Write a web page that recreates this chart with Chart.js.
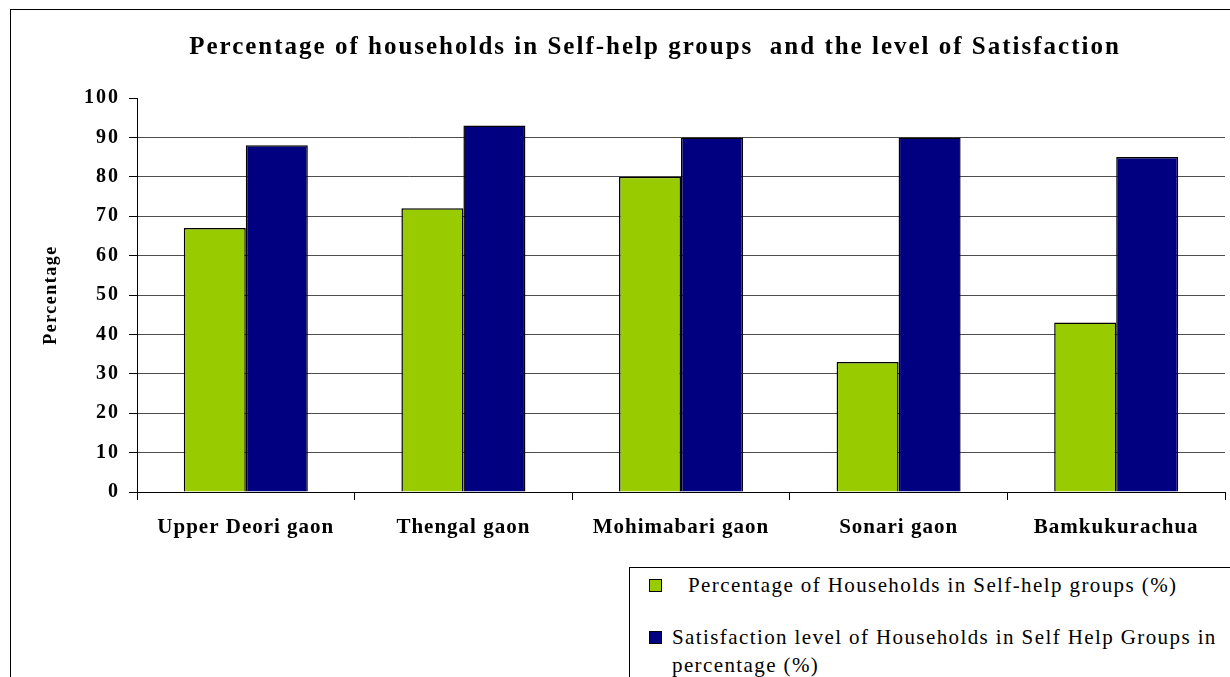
<!DOCTYPE html>
<html>
<head>
<meta charset="utf-8">
<script src="https://cdn.jsdelivr.net/npm/chart.js@4.4.1/dist/chart.umd.min.js"></script>
<style>
  html, body { margin: 0; padding: 0; background: #fff; overflow: hidden; width: 1230px; height: 677px; }
  #frame { position: absolute; left: 10px; top: 9px; width: 1290px; height: 668px; border-left: 1px solid #000; border-top: 1px solid #000; box-sizing: border-box; }
  #legend { position: absolute; left: 629px; top: 567px; width: 700px; height: 200px; border: 1px solid #000; background: #fff;
    font-family: "Liberation Serif", "Times New Roman", serif; font-size: 21px; letter-spacing: 1.4px; color: #000; }
  .item { position: absolute; white-space: nowrap; line-height: 28px; }
  .sw { position: absolute; width: 11px; height: 11px; border: 1px solid #000; }
</style>
</head>
<body>
<div id="frame"></div>
<canvas id="c" width="1290" height="668" style="position:absolute;left:10px;top:9px;width:1290px;height:668px"></canvas>
<div id="legend"></div>
<script>
const categories = ["Upper Deori gaon", "Thengal gaon", "Mohimabari gaon", "Sonari gaon", "Bamkukurachua"];
const seriesNames = ["Percentage of Households in Self-help groups (%)", "Satisfaction level of Households in Self Help Groups in percentage (%)"];
const shgPercent = [67, 72, 80, 33, 43];
const satisfactionPercent = [88, 93, 90, 90, 85];
const yTicks = [0, 10, 20, 30, 40, 50, 60, 70, 80, 90, 100];
const colors = ["#99CC00", "#000080"];

const serif = "'Liberation Serif', 'Times New Roman', serif";

// draws a chart element with a given canvas letter spacing
function spaced(obj, method, spacing) {
  if (!obj || obj['__sp_' + method]) return;
  const orig = obj[method];
  obj[method] = function (...args) {
    const ctx = this.ctx;
    const prev = ctx.letterSpacing;
    ctx.letterSpacing = spacing;
    const r = orig.apply(this, args);
    ctx.letterSpacing = prev;
    return r;
  };
  obj['__sp_' + method] = true;
}
const spacingPlugin = {
  id: 'spacing',
  afterLayout(chart) {
    spaced(chart.scales.x, 'drawLabels', '1px');
    spaced(chart.scales.y, 'drawLabels', '2px');
    spaced(chart.scales.y, 'drawTitle', '1.5px');
    spaced(chart.titleBlock, 'draw', '2px');
  }
};

new Chart(document.getElementById('c'), {
  type: 'bar',
  data: {
    labels: categories,
    datasets: [
      { label: seriesNames[0], data: shgPercent, backgroundColor: colors[0], borderColor: '#000', borderWidth: 1.5,
        categoryPercentage: 0.57, barPercentage: 1.0 },
      { label: seriesNames[1], data: satisfactionPercent, backgroundColor: colors[1], borderColor: '#000', borderWidth: 1.5,
        categoryPercentage: 0.57, barPercentage: 1.0 }
    ]
  },
  plugins: [spacingPlugin],
  options: {
    responsive: false,
    animation: false,
    layout: { padding: { left: 0, right: 0, top: 0, bottom: 125 } },
    plugins: {
      legend: { display: false },
      tooltip: { enabled: false },
      title: {
        display: true,
        text: 'Percentage of households in Self-help groups  and the level of Satisfaction',
        color: '#000',
        font: { family: serif, size: 25, weight: 'bold', lineHeight: 1.2 },
        padding: { top: 24, bottom: 35 }
      }
    },
    scales: {
      x: {
        afterFit: (s) => { s.height = 60; },
        grid: { offset: true, drawOnChartArea: false, drawTicks: true, tickLength: 8, color: '#000', tickColor: '#000' },
        border: { color: '#000', width: 1 },
        ticks: { color: '#000', padding: 15, font: { family: serif, size: 21, weight: 'bold' }, maxRotation: 0 }
      },
      y: {
        min: 0, max: 100,
        afterFit: (s) => { s.width = 127; },
        afterBuildTicks: (s) => { s.ticks = yTicks.map(v => ({ value: v })); },
        grid: {
          color: (ctx) => (ctx.tick && ctx.tick.value === 100) ? 'rgba(0,0,0,0)' : '#4d4d4d',
          tickColor: '#000', tickLength: 8, lineWidth: 1
        },
        border: { color: '#000', width: 1 },
        ticks: { color: '#000', padding: 9, font: { family: serif, size: 20, weight: 'bold' } },
        title: {
          display: true, text: 'Percentage', color: '#000',
          font: { family: serif, size: 18, weight: 'bold' },
          padding: { top: 31, bottom: 0 }
        }
      },
      // empty right-hand spacer so the plot ends where the reference's does
      spacer: {
        type: 'linear', position: 'right', min: 0, max: 100,
        afterFit: (s) => { s.width = 75; },
        grid: { display: false, drawOnChartArea: false },
        border: { display: false },
        ticks: { display: false }
      }
    }
  }
});

// HTML legend built from series names and colours
const lg = document.getElementById('legend');
const items = [
  { sw: [19, 11], text: [58, 3], label: seriesNames[0] },
  { sw: [19, 63], text: [42, 55], label: "Satisfaction level of Households in Self Help Groups in<br>percentage (%)" }
];
items.forEach((it, i) => {
  const s = document.createElement('div');
  s.className = 'sw';
  s.style.left = it.sw[0] + 'px'; s.style.top = it.sw[1] + 'px'; s.style.background = colors[i];
  lg.appendChild(s);
  const t = document.createElement('div');
  t.className = 'item';
  t.style.left = it.text[0] + 'px'; t.style.top = it.text[1] + 'px';
  t.innerHTML = it.label;
  lg.appendChild(t);
});
</script>
</body>
</html>
